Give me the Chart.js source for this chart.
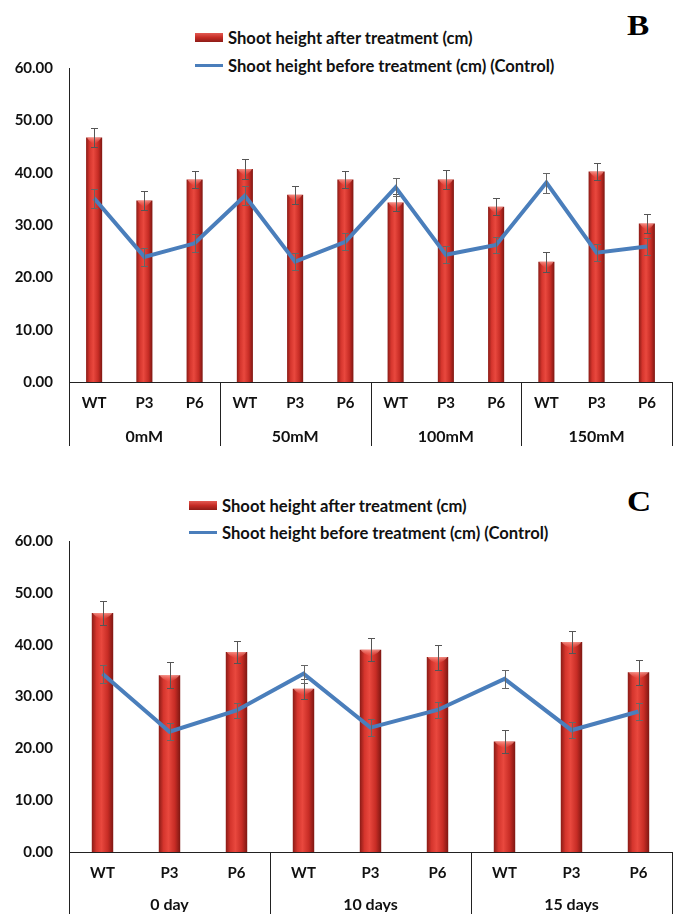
<!DOCTYPE html>
<html>
<head>
<meta charset="utf-8">
<script src="https://cdn.jsdelivr.net/npm/chart.js@4/dist/chart.umd.min.js"></script>
<style>
  html, body { margin: 0; padding: 0; background: #fff; }
  body { width: 673px; height: 914px; position: relative; overflow: hidden; font-family: Lato, "Open Sans", sans-serif; }
  .panel { position: absolute; left: 0; width: 673px; }
  .legend { position: absolute; font: 700 16.6px Lato, sans-serif; color: #111; }
  .legend .row { position: absolute; left: 0; white-space: nowrap; height: 18px; line-height: 18px; }
  .legend .bar { position: absolute; left: 0; top: 4px; width: 28px; height: 9px;
    background: linear-gradient(#e35a52, #c42b24 50%, #8e1c17); }
  .legend .line { position: absolute; left: 0; top: 7px; width: 28px; height: 3px; background: #4a7ebb; }
  .legend .txt { position: absolute; left: 33px; top: 0; }
  .letter { position: absolute; font: 700 29px "Liberation Serif", "DejaVu Serif", serif; color: #000;
    transform: scaleX(1.15); transform-origin: left top; }
</style>
</head>
<body>

<div class="letter" style="left:627px; top:9px;">B</div>
<div class="legend" style="left:195px; top:29px;">
  <div class="row" style="top:0;"><span class="bar"></span><span class="txt">Shoot height after treatment (cm)</span></div>
  <div class="row" style="top:28px;"><span class="line"></span><span class="txt">Shoot height before treatment (cm) (Control)</span></div>
</div>
<canvas id="chartB" class="panel" style="top:0;" width="673" height="460"></canvas>

<div class="letter" style="left:627px; top:485px;">C</div>
<div class="legend" style="left:189px; top:497px;">
  <div class="row" style="top:0;"><span class="bar"></span><span class="txt">Shoot height after treatment (cm)</span></div>
  <div class="row" style="top:27px;"><span class="line"></span><span class="txt">Shoot height before treatment (cm) (Control)</span></div>
</div>
<canvas id="chartC" class="panel" style="top:460px;" width="673" height="454"></canvas>

<script>
// Lines within each treatment group
const genotypes = ['WT', 'P3', 'P6'];

// Panel B: salt treatments
const saltGroups = ['0mM', '50mM', '100mM', '150mM'];
const afterSalt      = [46.7, 34.7, 38.7, 40.7, 35.8, 38.7, 34.3, 38.7, 33.5, 23.0, 40.2, 30.3];
const afterSaltErr   = [1.8, 1.8, 1.6, 1.9, 1.7, 1.7, 1.6, 1.8, 1.6, 1.9, 1.6, 1.8];
const beforeSalt     = [35.1, 23.9, 26.5, 35.6, 23.0, 26.8, 37.2, 24.3, 26.2, 38.1, 24.7, 25.9];
const beforeSaltErr  = [1.8, 1.7, 1.7, 1.8, 1.6, 1.6, 1.7, 1.6, 1.6, 1.9, 1.6, 1.6];

// Panel C: treatment duration
const dayGroups = ['0 day', '10 days', '15 days'];
const afterDays      = [46.1, 34.1, 38.6, 31.5, 39.0, 37.6, 21.3, 40.5, 34.7];
const afterDaysErr   = [2.3, 2.5, 2.2, 1.9, 2.2, 2.4, 2.2, 2.2, 2.4];
const beforeDays     = [34.4, 23.2, 27.3, 34.4, 24.0, 27.4, 33.4, 23.5, 27.1];
const beforeDaysErr  = [1.7, 1.6, 1.4, 1.7, 1.6, 1.6, 1.7, 1.6, 1.6];

// Y axis ticks
const yTicks = [0, 10, 20, 30, 40, 50, 60];

const BAR_PCT = 0.32;
const FONT = 'Lato';

// Cylinder-like horizontal shading for each bar
function barFill(ctx) {
  const chart = ctx.chart;
  if (!chart.chartArea || ctx.type !== 'data') return '#c42b24';
  const xs = chart.scales.x;
  const n = chart.data.labels.length;
  const cx = xs.getPixelForValue(ctx.dataIndex);
  const half = (xs.width / n) * BAR_PCT / 2;
  const g = chart.ctx.createLinearGradient(cx - half, 0, cx + half, 0);
  g.addColorStop(0, '#8a1b16');
  g.addColorStop(0.22, '#d5352d');
  g.addColorStop(0.45, '#e9483e');
  g.addColorStop(0.75, '#c72c25');
  g.addColorStop(1, '#7e1712');
  return g;
}

// Lighter rounded cap at the top of each bar, then its error bars
const errorBars = {
  id: 'errorBars',
  afterDatasetDraw(chart, args) {
    const ds = chart.data.datasets[args.index];
    const { ctx } = chart;
    const xs = chart.scales.x, ys = chart.scales.y;
    const n = chart.data.labels.length;
    if (ds.type === 'bar') {
      const half = (xs.width / n) * BAR_PCT / 2;
      ctx.save();
      ds.data.forEach((v, i) => {
        const cx = xs.getPixelForValue(i);
        const top = ys.getPixelForValue(v);
        const g = ctx.createLinearGradient(0, top, 0, top + 7);
        g.addColorStop(0, 'rgba(255,170,160,0.75)');
        g.addColorStop(1, 'rgba(240,90,80,0)');
        ctx.fillStyle = g;
        ctx.beginPath();
        ctx.moveTo(cx - half + 1, top);
        ctx.lineTo(cx + half - 1, top);
        ctx.quadraticCurveTo(cx + half - 2, top + 3, cx, top + 7);
        ctx.quadraticCurveTo(cx - half + 2, top + 3, cx - half + 1, top);
        ctx.fill();
      });
      ctx.restore();
    }
    if (!ds.errors) return;
    ctx.save();
    ctx.strokeStyle = ds.errorColor || '#555';
    ctx.lineWidth = 1;
    ds.data.forEach((v, i) => {
      const e = ds.errors[i];
      const px = Math.round(xs.getPixelForValue(i)) + 0.5;
      const top = Math.round(ys.getPixelForValue(v + e)) + 0.5;
      const bot = Math.round(ys.getPixelForValue(v - e)) + 0.5;
      ctx.beginPath();
      ctx.moveTo(px, top); ctx.lineTo(px, bot);
      ctx.moveTo(px - 3.5, top); ctx.lineTo(px + 3.5, top);
      ctx.moveTo(px - 3.5, bot); ctx.lineTo(px + 3.5, bot);
      ctx.stroke();
    });
    ctx.restore();
  }
};

// Vertical separators between treatment groups in the category area
const groupSeparators = {
  id: 'groupSeparators',
  afterDraw(chart, args, opts) {
    const { ctx, chartArea } = chart;
    const xs = chart.scales.x;
    const n = chart.data.labels.length;
    const step = xs.width / n;
    const per = opts.perGroup || 3;
    ctx.save();
    ctx.strokeStyle = '#222';
    ctx.lineWidth = 1;
    for (let k = 0; k <= n; k += per) {
      const px = Math.round(xs.getPixelForValue(Math.min(k, n - 1)) + (k === n ? step / 2 : -step / 2)) + 0.5;
      ctx.beginPath();
      ctx.moveTo(px, chartArea.bottom);
      ctx.lineTo(px, opts.bottom);
      ctx.stroke();
    }
    ctx.restore();
  }
};

function makeChart(id, groups, after, afterErr, before, beforeErr, geo) {
  const labels = [];
  groups.forEach(() => genotypes.forEach(g => labels.push(g)));
  return new Chart(document.getElementById(id), {
    data: {
      labels,
      datasets: [
        {
          type: 'line',
          label: 'Shoot height before treatment (cm) (Control)',
          data: before,
          errors: beforeErr,
          errorColor: '#666',
          borderColor: '#4a7ebb',
          borderWidth: 4,
          pointRadius: 0,
          tension: 0,
          order: 0
        },
        {
          type: 'bar',
          label: 'Shoot height after treatment (cm)',
          data: after,
          errors: afterErr,
          errorColor: '#555',
          backgroundColor: barFill,
          borderWidth: 0,
          barPercentage: BAR_PCT,
          categoryPercentage: 1,
          order: 1
        }
      ]
    },
    options: {
      responsive: false,
      animation: false,
      layout: { padding: { top: geo.top, right: 1, left: 0, bottom: geo.bottom } },
      plugins: {
        legend: { display: false },
        tooltip: { enabled: false },
        groupSeparators: { bottom: geo.sepBottom, perGroup: 3 }
      },
      scales: {
        x: {
          type: 'category',
          position: 'bottom',
          weight: 0,
          offset: true,
          grid: { display: false, drawTicks: false },
          border: { display: true, color: '#222', width: 1 },
          ticks: { font: { family: FONT, size: 15, weight: 'bold' }, color: '#111', padding: 12, maxRotation: 0, autoSkip: false },
          afterFit(s) { s.height = 34; }
        },
        x2: {
          type: 'category',
          position: 'bottom',
          weight: 1,
          labels: groups,
          offset: true,
          grid: { display: false, drawTicks: false },
          border: { display: false },
          ticks: { font: { family: FONT, size: 16, weight: 'bold' }, color: '#111', padding: geo.groupPad, maxRotation: 0, autoSkip: false },
          afterFit(s) { s.height = geo.groupH; }
        },
        y: {
          min: 0,
          max: 60,
          afterBuildTicks(s) { s.ticks = yTicks.map(v => ({ value: v })); },
          grid: { display: false, drawTicks: false },
          border: { display: true, color: '#222', width: 1 },
          ticks: {
            font: { family: FONT, size: 15, weight: 'bold' },
            color: '#111',
            padding: 16,
            callback: v => Number(v).toFixed(2)
          },
          afterFit(s) { s.width = 69; }
        }
      }
    },
    plugins: [errorBars, groupSeparators]
  });
}

makeChart('chartB', saltGroups, afterSalt, afterSaltErr, beforeSalt, beforeSaltErr,
  { top: 68, bottom: 460 - 382 - 34 - 32, groupH: 32, groupPad: 11, sepBottom: 446 });

makeChart('chartC', dayGroups, afterDays, afterDaysErr, beforeDays, beforeDaysErr,
  { top: 81, bottom: 454 - 392 - 34 - 26, groupH: 26, groupPad: 9, sepBottom: 454 });
</script>
</body>
</html>
